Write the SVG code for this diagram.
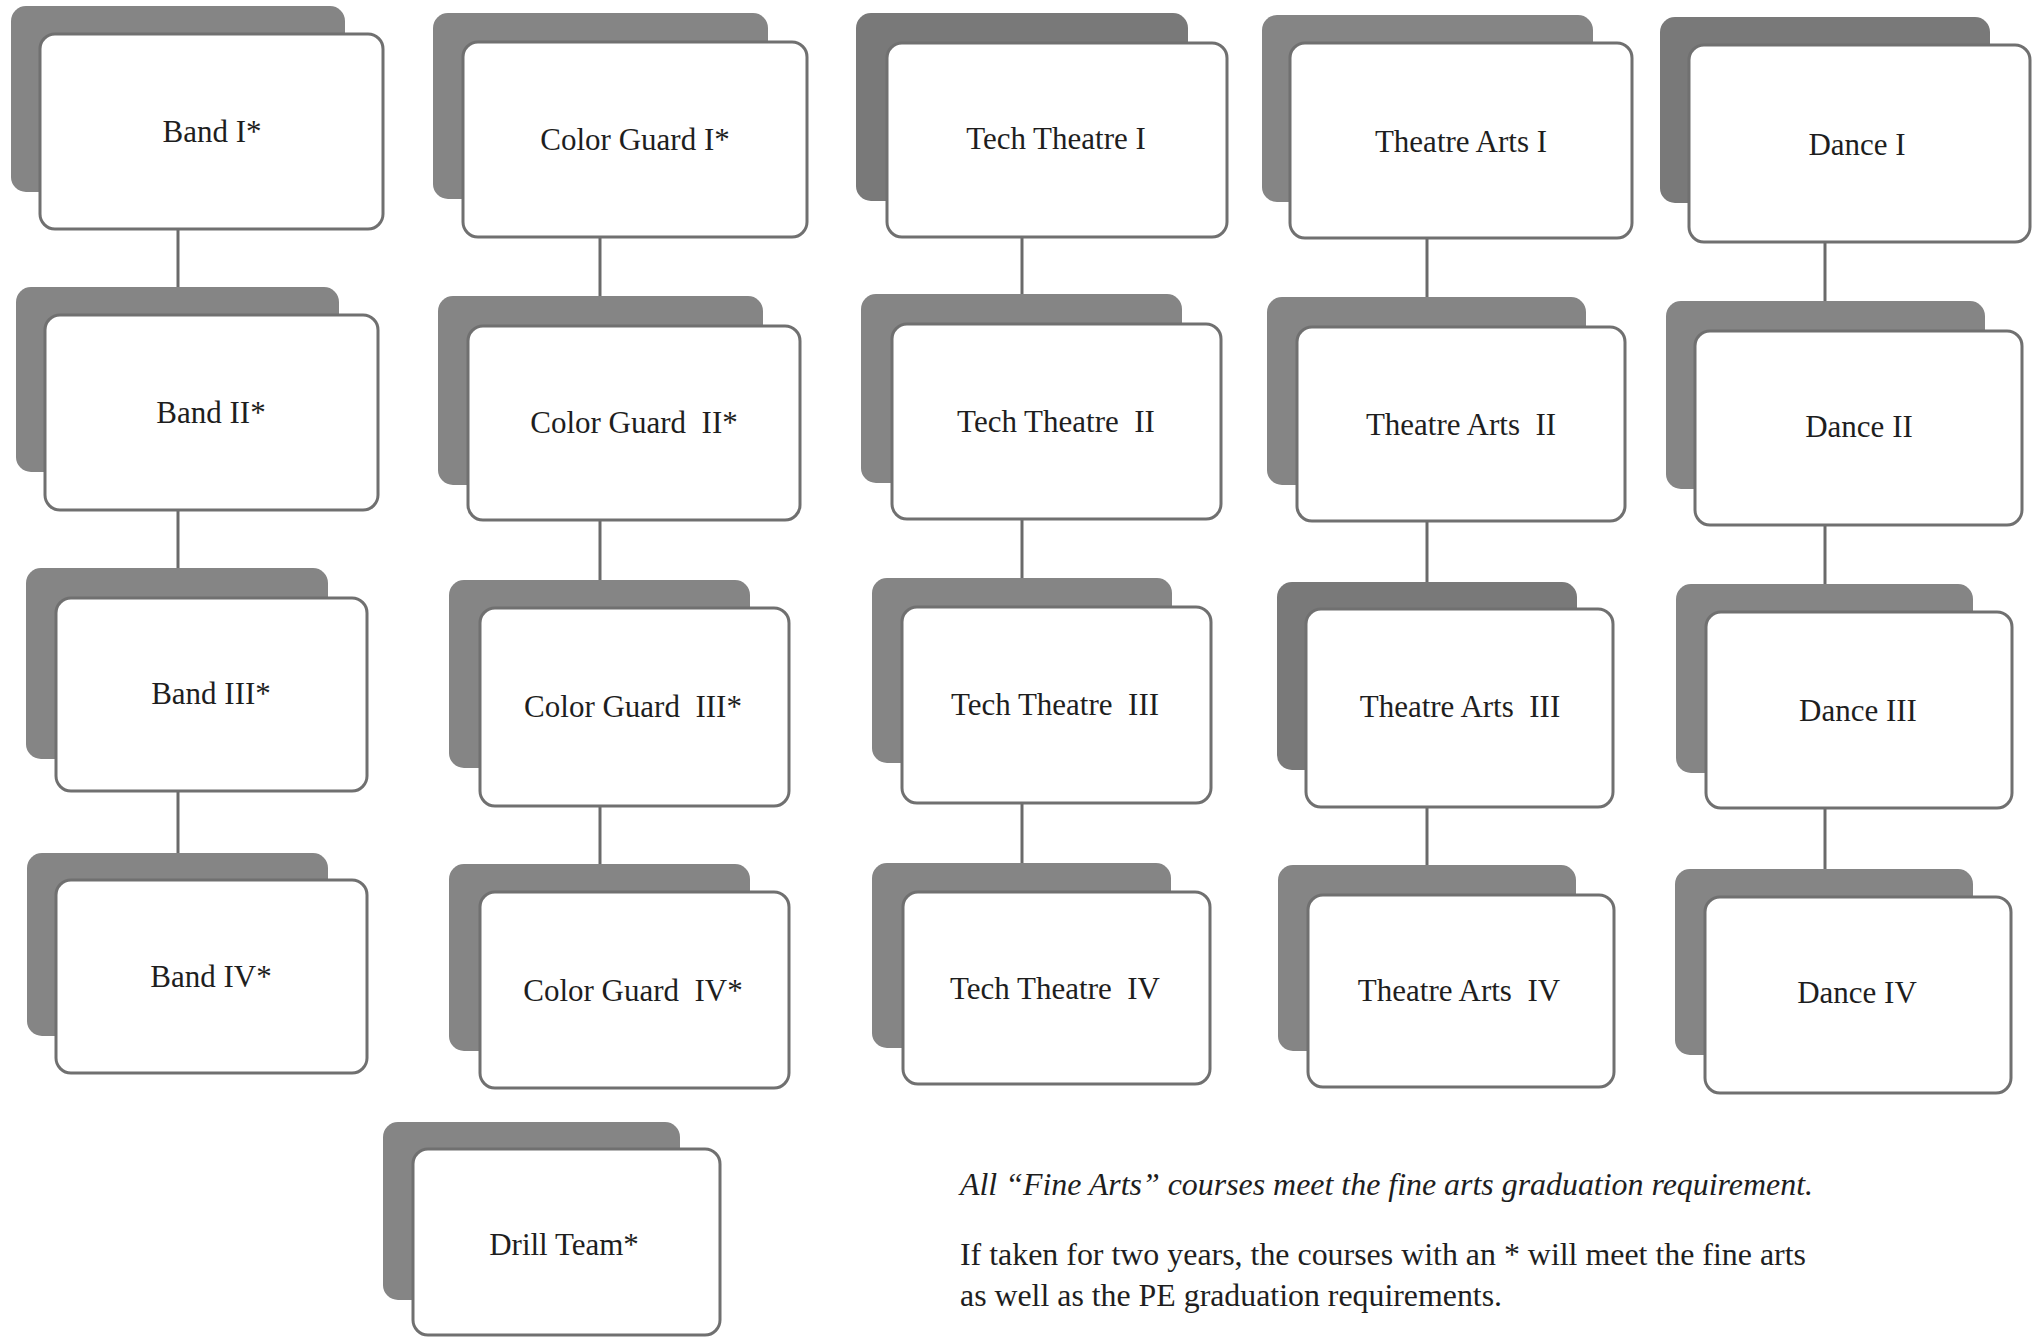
<svg xmlns="http://www.w3.org/2000/svg" width="2034" height="1338" viewBox="0 0 2034 1338">
<style>
.sh{fill:#858585}
.shd{fill:#797979}
.fr{fill:#fff;stroke:#707070;stroke-width:3}
.lb{font-family:"Liberation Serif","Times New Roman",serif;font-size:31px;fill:#1e1e1e;text-anchor:middle;white-space:pre}
.ft{font-family:"Liberation Serif","Times New Roman",serif;font-size:32px;fill:#1e1e1e}
.cn line{stroke:#6a6a6a;stroke-width:3}
</style>
<rect width="2034" height="1338" fill="#fff"/>
<g class="cn" id="connectors">
<line x1="178" y1="229" x2="178" y2="287"/>
<line x1="178" y1="510" x2="178" y2="568"/>
<line x1="178" y1="791" x2="178" y2="853"/>
<line x1="600" y1="237" x2="600" y2="296"/>
<line x1="600" y1="520" x2="600" y2="580"/>
<line x1="600" y1="806" x2="600" y2="864"/>
<line x1="1022" y1="237" x2="1022" y2="294"/>
<line x1="1022" y1="519" x2="1022" y2="578"/>
<line x1="1022" y1="803" x2="1022" y2="863"/>
<line x1="1427" y1="238" x2="1427" y2="297"/>
<line x1="1427" y1="521" x2="1427" y2="582"/>
<line x1="1427" y1="807" x2="1427" y2="865"/>
<line x1="1825" y1="242" x2="1825" y2="301"/>
<line x1="1825" y1="525" x2="1825" y2="584"/>
<line x1="1825" y1="808" x2="1825" y2="869"/>
</g>
<g id="band1"><rect class="sh" x="11" y="6" width="334" height="186" rx="15"/><rect class="fr" x="40" y="34" width="343" height="195" rx="15"/><text class="lb" x="212" y="142">Band I*</text></g>
<g id="band2"><rect class="sh" x="16" y="287" width="323" height="185" rx="15"/><rect class="fr" x="45" y="315" width="333" height="195" rx="15"/><text class="lb" x="211" y="423">Band II*</text></g>
<g id="band3"><rect class="sh" x="26" y="568" width="302" height="191" rx="15"/><rect class="fr" x="56" y="598" width="311" height="193" rx="15"/><text class="lb" x="211" y="704">Band III*</text></g>
<g id="band4"><rect class="sh" x="27" y="853" width="301" height="183" rx="15"/><rect class="fr" x="56" y="880" width="311" height="193" rx="15"/><text class="lb" x="211" y="987">Band IV*</text></g>

<g id="cg1"><rect class="sh" x="433" y="13" width="335" height="186" rx="15"/><rect class="fr" x="463" y="42" width="344" height="195" rx="15"/><text class="lb" x="635" y="150">Color Guard I*</text></g>
<g id="cg2"><rect class="sh" x="438" y="296" width="325" height="189" rx="15"/><rect class="fr" x="468" y="326" width="332" height="194" rx="15"/><text class="lb" x="634" y="433">Color Guard  II*</text></g>
<g id="cg3"><rect class="sh" x="449" y="580" width="301" height="188" rx="15"/><rect class="fr" x="480" y="608" width="309" height="198" rx="15"/><text class="lb" x="633" y="717">Color Guard  III*</text></g>
<g id="cg4"><rect class="sh" x="449" y="864" width="301" height="187" rx="15"/><rect class="fr" x="480" y="892" width="309" height="196" rx="15"/><text class="lb" x="633" y="1001">Color Guard  IV*</text></g>

<g id="tt1"><rect class="shd" x="856" y="13" width="332" height="188" rx="15"/><rect class="fr" x="887" y="43" width="340" height="194" rx="15"/><text class="lb" x="1056" y="149">Tech Theatre I</text></g>
<g id="tt2"><rect class="sh" x="861" y="294" width="321" height="189" rx="15"/><rect class="fr" x="892" y="324" width="329" height="195" rx="15"/><text class="lb" x="1056" y="432">Tech Theatre  II</text></g>
<g id="tt3"><rect class="sh" x="872" y="578" width="300" height="185" rx="15"/><rect class="fr" x="902" y="607" width="309" height="196" rx="15"/><text class="lb" x="1055" y="715">Tech Theatre  III</text></g>
<g id="tt4"><rect class="sh" x="872" y="863" width="299" height="185" rx="15"/><rect class="fr" x="903" y="892" width="307" height="192" rx="15"/><text class="lb" x="1055" y="999">Tech Theatre  IV</text></g>

<g id="ta1"><rect class="sh" x="1262" y="15" width="331" height="187" rx="15"/><rect class="fr" x="1290" y="43" width="342" height="195" rx="15"/><text class="lb" x="1461" y="152">Theatre Arts I</text></g>
<g id="ta2"><rect class="sh" x="1267" y="297" width="319" height="188" rx="15"/><rect class="fr" x="1297" y="327" width="328" height="194" rx="15"/><text class="lb" x="1461" y="435">Theatre Arts  II</text></g>
<g id="ta3"><rect class="shd" x="1277" y="582" width="300" height="188" rx="15"/><rect class="fr" x="1306" y="609" width="307" height="198" rx="15"/><text class="lb" x="1460" y="717">Theatre Arts  III</text></g>
<g id="ta4"><rect class="sh" x="1278" y="865" width="298" height="186" rx="15"/><rect class="fr" x="1308" y="895" width="306" height="192" rx="15"/><text class="lb" x="1459" y="1001">Theatre Arts  IV</text></g>

<g id="dance1"><rect class="shd" x="1660" y="17" width="330" height="186" rx="15"/><rect class="fr" x="1689" y="45" width="341" height="197" rx="15"/><text class="lb" x="1857" y="155">Dance I</text></g>
<g id="dance2"><rect class="sh" x="1666" y="301" width="319" height="188" rx="15"/><rect class="fr" x="1695" y="331" width="327" height="194" rx="15"/><text class="lb" x="1859" y="437">Dance II</text></g>
<g id="dance3"><rect class="sh" x="1676" y="584" width="297" height="189" rx="15"/><rect class="fr" x="1706" y="612" width="306" height="196" rx="15"/><text class="lb" x="1858" y="721">Dance III</text></g>
<g id="dance4"><rect class="sh" x="1675" y="869" width="298" height="186" rx="15"/><rect class="fr" x="1705" y="897" width="306" height="196" rx="15"/><text class="lb" x="1857" y="1003">Dance IV</text></g>

<g id="drill"><rect class="sh" x="383" y="1122" width="297" height="178" rx="15"/><rect class="fr" x="413" y="1149" width="307" height="186" rx="15"/><text class="lb" x="564" y="1255">Drill Team*</text></g>

<g id="notes">
<text class="ft" x="960" y="1195" font-style="italic" textLength="853" lengthAdjust="spacingAndGlyphs">All “Fine Arts” courses meet the fine arts graduation requirement.</text>
<text class="ft" x="960" y="1265" textLength="846" lengthAdjust="spacingAndGlyphs">If taken for two years, the courses with an * will meet the fine arts</text>
<text class="ft" x="960" y="1306" textLength="542" lengthAdjust="spacingAndGlyphs">as well as the PE graduation requirements.</text>
</g>
</svg>
